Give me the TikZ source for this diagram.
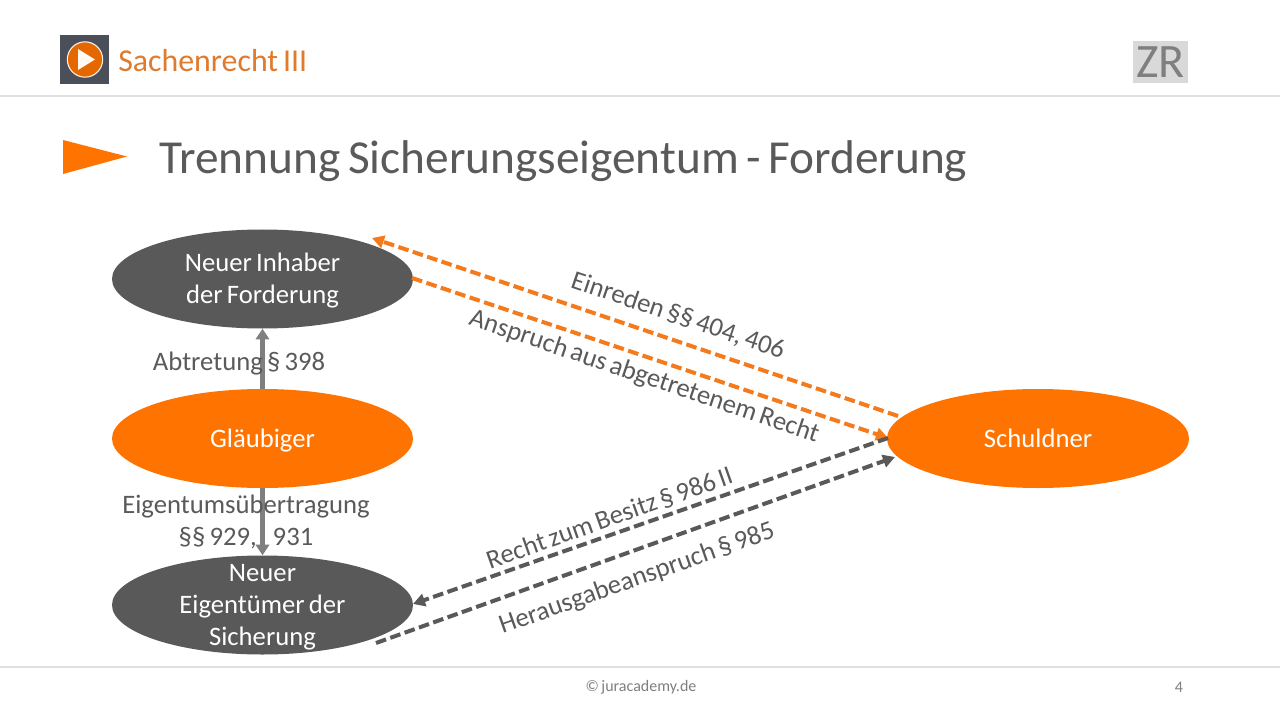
\documentclass[tikz,border=0pt]{standalone}
\usepackage{fontspec}
\setmainfont{Carlito}[WordSpace=0.7]
\usetikzlibrary{arrows.meta,shapes.geometric}
\definecolor{jorange}{HTML}{FF7300}
\definecolor{jline}{HTML}{F57A1C}
\definecolor{jcourse}{HTML}{E07A2C}
\definecolor{jdark}{HTML}{595959}
\definecolor{jtext}{HTML}{5A5A5A}
\definecolor{jgrey}{HTML}{7F7F7F}
\definecolor{jicon}{HTML}{4A4F5A}
\tikzset{
 oval/.style={ellipse,minimum width=225.75pt,minimum height=74.25pt,inner sep=0pt},
 darkoval/.style={oval,fill=jdark},
 orangeoval/.style={oval,fill=jorange},
 ovaltext/.style={inner sep=0pt,text=white,align=center,font=\fontsize{20}{24}\selectfont,yshift=-1.5pt},
 solidarrow/.style={draw=jgrey,line width=3.5pt,-{Triangle[length=8pt,width=10pt]}},
 dasharrow/.style={line width=3pt,dash pattern=on 8pt off 3.4pt,-{Triangle[length=9pt,width=9.5pt]}},
 lab/.style={text=jtext,font=\fontsize{20}{24}\selectfont,align=center,inner sep=0pt},
}
\begin{document}
\begin{tikzpicture}[x=0.75pt,y=-0.75pt]
\useasboundingbox (0,0) rectangle (1280,720);
\fill[white] (0,0) rectangle (1280,720);
% header
\draw[black!12,line width=1.5pt] (0,96) -- (1280,96);
\draw[black!12,line width=1.5pt] (0,667) -- (1280,667);
\fill[jicon] (60,35) rectangle (109,84);
\node[circle,fill=jorange!90!black,draw=white!90!orange,line width=0.8pt,minimum size=26.5pt,inner sep=0pt] (playdisc) at (85,59.5) {};
\fill[white!95!orange] (78,49) -- (95,59.5) -- (78,70) -- cycle;
\node[anchor=west,inner sep=0pt,text=jcourse,font=\fontsize{23.9}{26}\selectfont] (course) at (118,60.5) {Sachenrecht III};
\node[fill=black!15,text=jgrey,minimum width=41.5pt,minimum height=31.5pt,inner sep=0pt,font=\fontsize{36}{36}\selectfont] (zr) at (1160.5,62.5) {ZR};
\fill[jorange] (63,140) -- (127,156.5) -- (63,174) -- cycle;
\node[anchor=west,inner sep=0pt,text=jtext,font=\fontsize{35.5}{40}\selectfont] (title) at (159,161) {Trennung Sicherungseigentum - Forderung};
% ovals
\node[darkoval] (inhaber) at (262.5,279) {};
\node[orangeoval] (glaeubiger) at (262.5,438.5) {};
\node[darkoval] (eigentuemer) at (262.5,605) {};
\node[orangeoval,minimum width=226.5pt] (schuldner) at (1038,438.5) {};
\node[ovaltext] (t1) at (inhaber) {Neuer Inhaber\\der Forderung};
\node[ovaltext] (t2) at (glaeubiger) {Gläubiger};
\node[ovaltext] (t3) at (eigentuemer) {Neuer\\Eigentümer der\\Sicherung};
\node[ovaltext,yshift=1.5pt] (t4) at (schuldner) {Schuldner};
% connectors
\draw[solidarrow] (glaeubiger) -- (inhaber);
\draw[solidarrow] (glaeubiger) -- (eigentuemer);
\coordinate (a1) at (898,416); \coordinate (a2) at (372,238);
\coordinate (b1) at (412,278); \coordinate (b2) at (888,438);
\coordinate (c1) at (888,438); \coordinate (c2) at (413,604);
\coordinate (d1) at (376,643); \coordinate (d2) at (895,457);
\draw[dasharrow,draw=jline] (a1) -- (a2);
\draw[dasharrow,draw=jline] (b1) -- (b2);
\draw[dasharrow,draw=jdark] (c1) -- (c2);
\draw[dasharrow,draw=jdark] (d1) -- (d2);
% labels
\node[lab] (l1) at (239,364) {Abtretung § 398};
\node[lab] (l2) at (246,522) {Eigentumsübertragung\\§§ 929,\hspace{12pt}931};
\node[lab,rotate=-18.7] (l3) at (678,316) {Einreden §§ 404, 406};
\node[lab,rotate=-18.7] (l4) at (644,377) {Anspruch aus abgetretenem Recht};
\node[lab,rotate=19.5] (l5) at (609.5,518) {Recht zum Besitz § 986 II};
\node[lab,rotate=19.5] (l6) at (637,579) {Herausgabeanspruch § 985};
% footer
\node[inner sep=0pt,text=jgrey,font=\fontsize{12}{14}\selectfont] (foot) at (641,687) {© juracademy.de};
\node[inner sep=0pt,text=jgrey,font=\fontsize{12}{14}\selectfont] (page) at (1179,687) {4};
\end{tikzpicture}
\end{document}
